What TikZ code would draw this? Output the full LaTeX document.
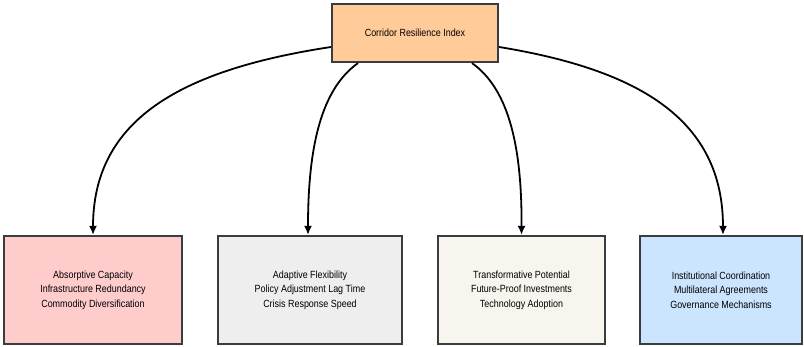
\documentclass[tikz,border=0pt]{standalone}
\usepackage{fontspec}
\setmainfont{Liberation Sans}[FakeStretch=0.86]
\usetikzlibrary{arrows.meta}
\definecolor{bordc}{HTML}{3A3D40}
\definecolor{topc}{HTML}{FFCC99}
\definecolor{redc}{HTML}{FFCCCC}
\definecolor{grayc}{HTML}{EEEEEE}
\definecolor{beigec}{HTML}{F8F5EE}
\definecolor{bluec}{HTML}{CCE5FF}
\tikzset{
  box/.style={draw=bordc, line width=2.2pt, inner sep=0pt, align=center,
    font=\fontsize{10.4}{14.5}\selectfont, text=black},
  conn/.style={draw=black, line width=1.8pt, -{Latex[length=9pt,width=8pt]}}
}
\begin{document}
\begin{tikzpicture}[x=1pt,y=-1pt]
\useasboundingbox (0,0) rectangle (804,346);
\node[box, fill=topc, minimum width=166pt, minimum height=58pt] (top) at (415,33) {Corridor Resilience Index};
\node[box, fill=redc, minimum width=178pt, minimum height=108pt] (a) at (93,290) {Absorptive Capacity\\Infrastructure Redundancy\\Commodity Diversification};
\node[box, fill=grayc, minimum width=184pt, minimum height=108pt] (b) at (310,290) {Adaptive Flexibility\\Policy Adjustment Lag Time\\Crisis Response Speed};
\node[box, fill=beigec, minimum width=167pt, minimum height=108pt] (c) at (521.5,290) {Transformative Potential\\Future-Proof Investments\\Technology Adoption};
\node[box, fill=bluec, minimum width=162pt, minimum height=108pt] (d) at (721,290) {Institutional Coordination\\Multilateral Agreements\\Governance Mechanisms};
\coordinate (s1) at ([yshift=-14pt]top.west);
\coordinate (s2) at ([xshift=-57pt]top.south);
\coordinate (s3) at ([xshift=57pt]top.south);
\coordinate (s4) at ([yshift=-14pt]top.east);
\draw[conn] (s1) .. controls (180,70) and (93,120) .. (a.north);
\draw[conn] (s2) .. controls (320,90) and (308,150) .. (b.north -| 308,0);
\draw[conn] (s3) .. controls (510,90) and (522,150) .. (c.north);
\draw[conn] (s4) .. controls (640,70) and (723,120) .. (d.north -| 723,0);
\end{tikzpicture}
\end{document}
